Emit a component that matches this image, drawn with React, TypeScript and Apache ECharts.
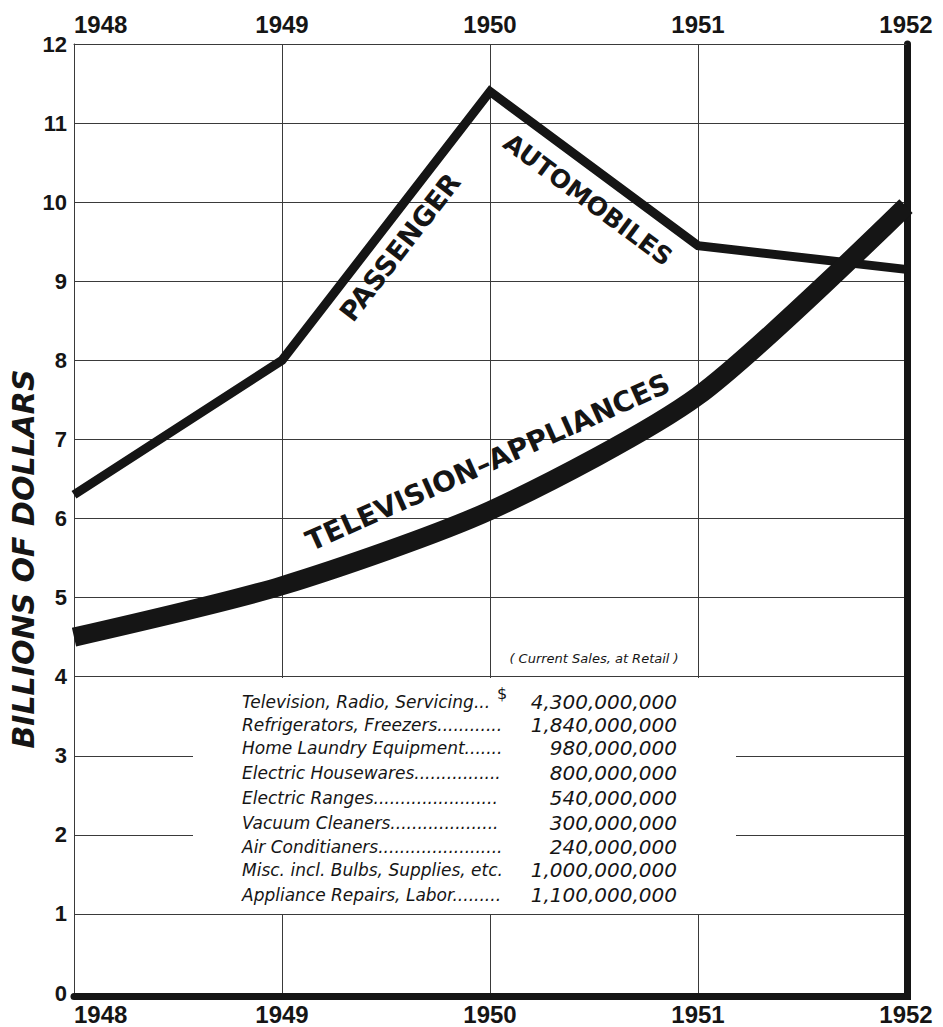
import React, { useEffect, useRef } from "react";
import * as echarts from "echarts";

const years = [1948, 1949, 1950, 1951, 1952];
const passengerAutomobiles = [6.3, 8.0, 11.4, 9.45, 9.15];
const televisionAppliances = [4.5, 5.15, 6.1, 7.55, 9.95];

const itemLabels = [
  "Television, Radio, Servicing...",
  "Refrigerators, Freezers",
  "Home Laundry Equipment",
  "Electric Housewares",
  "Electric Ranges",
  "Vacuum Cleaners",
  "Air Conditianers",
  "Misc. incl. Bulbs, Supplies, etc.",
  "Appliance Repairs, Labor",
];
const itemValues = [
  "4,300,000,000",
  "1,840,000,000",
  "980,000,000",
  "800,000,000",
  "540,000,000",
  "300,000,000",
  "240,000,000",
  "1,000,000,000",
  "1,100,000,000",
];
const rowY = [702, 725, 748, 773, 798, 823, 847, 870, 895];

const INK = "#151515";
const GRID = "#3a3a3a";

export default function App() {
  const ref = useRef<HTMLDivElement>(null);
  useEffect(() => {
    if (!ref.current) return;
    const chart = echarts.init(ref.current, null, { renderer: "svg" });
    const labelStyle = {
      fontFamily: "Liberation Sans",
      fontWeight: "bold" as const,
      fontSize: 24,
      color: INK,
    };
    const option: any = {
      animation: false,
      backgroundColor: "#ffffff",
      grid: { left: 74, right: 37, top: 44, bottom: 34, containLabel: false },
      xAxis: [
        {
          type: "value",
          min: 1948,
          max: 1952,
          interval: 1,
          position: "bottom",
          offset: 3.5,
          axisLine: { show: true, onZero: false, lineStyle: { color: INK, width: 7 } },
          axisTick: { show: false },
          axisLabel: { ...labelStyle, margin: 6, alignMinLabel: "left", formatter: (v: number) => String(v) },
          splitLine: { show: true, lineStyle: { color: GRID, width: 1 } },
        },
        {
          type: "value",
          min: 1948,
          max: 1952,
          interval: 1,
          position: "top",
          axisLine: { show: true, onZero: false, lineStyle: { color: GRID, width: 1 } },
          axisTick: { show: false },
          axisLabel: { ...labelStyle, margin: 8, alignMinLabel: "left", formatter: (v: number) => String(v) },
          splitLine: { show: false },
        },
      ],
      yAxis: [
        {
          type: "value",
          min: 0,
          max: 12,
          interval: 1,
          position: "left",
          axisLine: { show: true, onZero: false, lineStyle: { color: GRID, width: 1 } },
          axisTick: { show: false },
          axisLabel: {
            fontFamily: "Liberation Sans",
            fontWeight: "bold",
            fontSize: 22,
            color: INK,
            margin: 7,
          },
          splitLine: { show: true, lineStyle: { color: GRID, width: 1 } },
        },
        {
          type: "value",
          min: 0,
          max: 12,
          interval: 1,
          position: "right",
          offset: 1,
          axisLine: { show: true, onZero: false, lineStyle: { color: INK, width: 7 } },
          axisTick: { show: false },
          axisLabel: { show: false },
          splitLine: { show: false },
        },
      ],
      series: [
        {
          name: "Passenger Automobiles",
          type: "line",
          xAxisIndex: 0,
          yAxisIndex: 0,
          data: years.map((y, i) => [y, passengerAutomobiles[i]]),
          showSymbol: false,
          symbol: "none",
          lineStyle: { color: INK, width: 9, join: "miter" },
          z: 3,
        },
        {
          name: "Television-Appliances",
          type: "line",
          xAxisIndex: 0,
          yAxisIndex: 0,
          data: years.map((y, i) => [y, televisionAppliances[i]]),
          smooth: 0.25,
          showSymbol: false,
          symbol: "none",
          lineStyle: { color: INK, width: 19 },
          z: 3,
        },
      ],
    };
    chart.setOption(option);

    const px = (x: number, y: number) =>
      chart.convertToPixel({ xAxisIndex: 0, yAxisIndex: 0 }, [x, y]) as number[];
    const ang = (a: number[], b: number[]) => Math.atan2(-(b[1] - a[1]), b[0] - a[0]);

    const pA = px(years[1], passengerAutomobiles[1]);
    const pB = px(years[2], passengerAutomobiles[2]);
    const pC = px(years[3], passengerAutomobiles[3]);
    const passengerPos = px(1949.567, 9.43);
    const autoPos = px(1950.471, 10.03);
    const tvPos = px(1949.99, 6.71);
    const corner = px(1952, 0);

    const lineLabel = (text: string, pos: number[], rot: number, size: number) => ({
      type: "text",
      x: pos[0],
      y: pos[1],
      rotation: rot,
      z: 10,
      style: {
        text,
        fill: INK,
        fontFamily: "DejaVu Sans",
        fontWeight: "bold",
        fontSize: size,
        align: "center",
        verticalAlign: "middle",
      },
    });

    const tableFont = {
      fontFamily: "DejaVu Sans",
      fontStyle: "italic",
      fill: INK,
    };

    const graphic: any[] = [
      {
        type: "rect",
        z: 5,
        shape: { x: 193, y: 678, width: 543, height: 236 },
        style: { fill: "#ffffff" },
      },
      {
        type: "rect",
        z: 5,
        shape: { x: corner[0], y: corner[1], width: 5, height: 7 },
        style: { fill: INK },
      },
      {
        type: "text",
        x: 23,
        y: 559,
        rotation: Math.PI / 2,
        z: 10,
        style: {
          text: "BILLIONS OF DOLLARS",
          fill: INK,
          fontFamily: "DejaVu Sans",
          fontWeight: "bold",
          fontStyle: "italic",
          fontSize: 30,
          align: "center",
          verticalAlign: "middle",
        },
      },
      lineLabel("PASSENGER", passengerPos, ang(pA, pB), 27),
      lineLabel("AUTOMOBILES", autoPos, ang(pB, pC), 25),
      lineLabel("TELEVISION–APPLIANCES", tvPos, (24 * Math.PI) / 180, 28),
      {
        type: "text",
        x: 594,
        y: 658,
        z: 10,
        style: {
          ...tableFont,
          text: "( Current Sales, at Retail )",
          fontSize: 13,
          align: "center",
          verticalAlign: "middle",
        },
      },
      {
        type: "text",
        x: 502,
        y: 693,
        z: 10,
        style: {
          ...tableFont,
          fontStyle: "normal",
          text: "$",
          fontSize: 16,
          align: "center",
          verticalAlign: "middle",
        },
      },
    ];

    itemLabels.forEach((label, i) => {
      const withDots = i === 0 ? label : label + ".".repeat(60);
      graphic.push({
        type: "text",
        x: 242,
        y: rowY[i],
        z: 10,
        style: {
          ...tableFont,
          text: withDots,
          fontSize: 17,
          width: i === 0 ? 300 : 262,
          overflow: "truncate",
          ellipsis: "",
          align: "left",
          verticalAlign: "middle",
        },
      });
      graphic.push({
        type: "text",
        x: 677,
        y: rowY[i],
        z: 10,
        style: {
          ...tableFont,
          text: itemValues[i],
          fontSize: 20,
          align: "right",
          verticalAlign: "middle",
        },
      });
    });

    chart.setOption({ graphic });
    return () => chart.dispose();
  }, []);

  return (
    <div
      ref={ref}
      style={{ position: "absolute", left: 0, top: 0, width: 943, height: 1027 }}
    />
  );
}
